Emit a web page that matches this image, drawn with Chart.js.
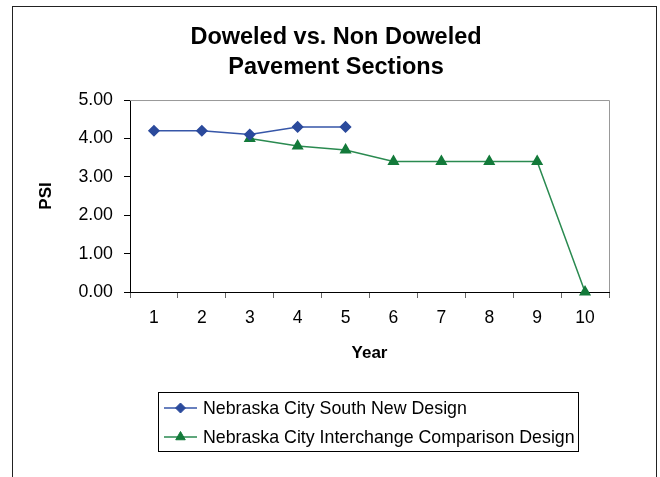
<!DOCTYPE html>
<html>
<head>
<meta charset="utf-8">
<script src="https://cdn.jsdelivr.net/npm/chart.js@4/dist/chart.umd.min.js"></script>
<style>
  html, body { margin: 0; padding: 0; background: #fff; }
</style>
</head>
<body>
<canvas id="psiChart" width="660" height="477"></canvas>
<script>
// data
const years = ['1', '2', '3', '4', '5', '6', '7', '8', '9', '10'];
const southNewDesign = [4.20, 4.20, 4.10, 4.30, 4.30, null, null, null, null, null];
const interchangeDesign = [null, null, 4.00, 3.80, 3.70, 3.40, 3.40, 3.40, 3.40, 0.00];
const seriesNames = ['Nebraska City South New Design', 'Nebraska City Interchange Comparison Design'];
const chartTitle = ['Doweled vs. Non Doweled', 'Pavement Sections'];
const psiMin = 0, psiMax = 5, psiStep = 1;

const fontFamily = '"Liberation Sans", Arial, sans-serif';

// outer frame, grey top/right plot edges
const frame = {
    id: 'frame',
    afterDraw(chart) {
        const ctx = chart.ctx;
        const a = chart.chartArea;
        ctx.save();
        ctx.strokeStyle = '#999';
        ctx.lineWidth = 1;
        ctx.beginPath();
        ctx.moveTo(a.left, a.top + 0.5);
        ctx.lineTo(a.right + 0.5, a.top + 0.5);
        ctx.lineTo(a.right + 0.5, a.bottom);
        ctx.stroke();
        ctx.strokeStyle = '#222';
        ctx.strokeRect(12.5, 6.5, 644, 480);
        ctx.restore();
    }
};

// boxed legend under the plot like the Excel one
const boxLegend = {
    id: 'boxLegend',
    afterDraw(chart) {
        const ctx = chart.ctx;
        ctx.save();
        ctx.strokeStyle = '#000';
        ctx.lineWidth = 1;
        ctx.strokeRect(158.5, 392.5, 420, 59);
        ctx.font = '17.8px ' + fontFamily;
        ctx.textBaseline = 'middle';
        chart.data.datasets.forEach((ds, i) => {
            const y = 408 + i * 29;
            ctx.strokeStyle = ds.borderColor;
            ctx.lineWidth = 1.5;
            ctx.beginPath();
            ctx.moveTo(164, y);
            ctx.lineTo(197, y);
            ctx.stroke();
            ctx.fillStyle = ds.pointBackgroundColor;
            ctx.strokeStyle = ds.pointBorderColor;
            ctx.lineWidth = 1;
            Chart.helpers.drawPoint(ctx, { pointStyle: ds.pointStyle, radius: ds.pointRadius, borderWidth: 1 }, 180.5, y);
            ctx.fillStyle = '#000';
            ctx.fillText(ds.label, 203, y + 1);
        });
        ctx.restore();
    }
};

const ctx = document.getElementById('psiChart').getContext('2d');

const psiChart = new Chart(ctx, {
    type: 'line',
    data: {
        labels: years,
        datasets: [{
            label: seriesNames[0],
            data: southNewDesign,
            borderColor: '#3656a8',
            backgroundColor: '#2b4a9c',
            pointBackgroundColor: '#2b4a9c',
            pointBorderColor: '#2b4a9c',
            pointStyle: 'rectRot',
            pointRadius: 5,
            borderWidth: 1.5,
            fill: false,
            tension: 0,
            clip: false,
        }, {
            label: seriesNames[1],
            data: interchangeDesign,
            borderColor: '#2a8a50',
            backgroundColor: '#137a3a',
            pointBackgroundColor: '#137a3a',
            pointBorderColor: '#137a3a',
            pointStyle: 'triangle',
            pointRadius: 5.5,
            borderWidth: 1.5,
            fill: false,
            tension: 0,
            clip: false,
        }]
    },
    options: {
        responsive: false,
        animation: false,
        layout: {
            padding: { left: 12, right: 0, top: 0, bottom: 113 }
        },
        plugins: {
            title: {
                display: true,
                text: chartTitle,
                color: '#000',
                font: { family: fontFamily, size: 23.5, weight: 'bold', lineHeight: 1.26 },
                padding: { top: 23, bottom: 17.8 }
            },
            legend: { display: false },
            tooltip: { enabled: false }
        },
        scales: {
            x: {
                offset: true,
                grid: {
                    offset: true,
                    drawOnChartArea: false,
                    tickLength: 6,
                    tickColor: '#666',
                },
                border: { color: '#000', width: 1 },
                ticks: {
                    color: '#000',
                    padding: 10,
                    maxRotation: 0,
                    font: { family: fontFamily, size: 17.5 }
                },
                title: {
                    display: true,
                    text: 'Year',
                    color: '#000',
                    padding: 0,
                    font: { family: fontFamily, size: 17, weight: 'bold' }
                },
                afterFit: (scale) => { scale.height = 72; }
            },
            y: {
                min: psiMin,
                max: psiMax,
                grid: {
                    drawOnChartArea: false,
                    tickLength: 6,
                    tickColor: '#000',
                },
                border: { color: '#000', width: 1 },
                ticks: {
                    stepSize: psiStep,
                    color: '#000',
                    padding: 11,
                    font: { family: fontFamily, size: 17.8 },
                    callback: (v) => Number(v).toFixed(2)
                },
                title: {
                    display: true,
                    text: 'PSI',
                    color: '#000',
                    padding: { top: 24, bottom: 0 },
                    font: { family: fontFamily, size: 17, weight: 'bold' }
                },
                afterFit: (scale) => { scale.width = 118; }
            },
            // empty right-hand scale, only holds the space right of the plot
            yRight: {
                position: 'right',
                min: psiMin,
                max: psiMax,
                grid: { display: false },
                border: { display: false },
                ticks: { display: false },
                afterFit: (scale) => { scale.width = 51; }
            }
        }
    },
    plugins: [frame, boxLegend]
});
</script>
</body>
</html>
